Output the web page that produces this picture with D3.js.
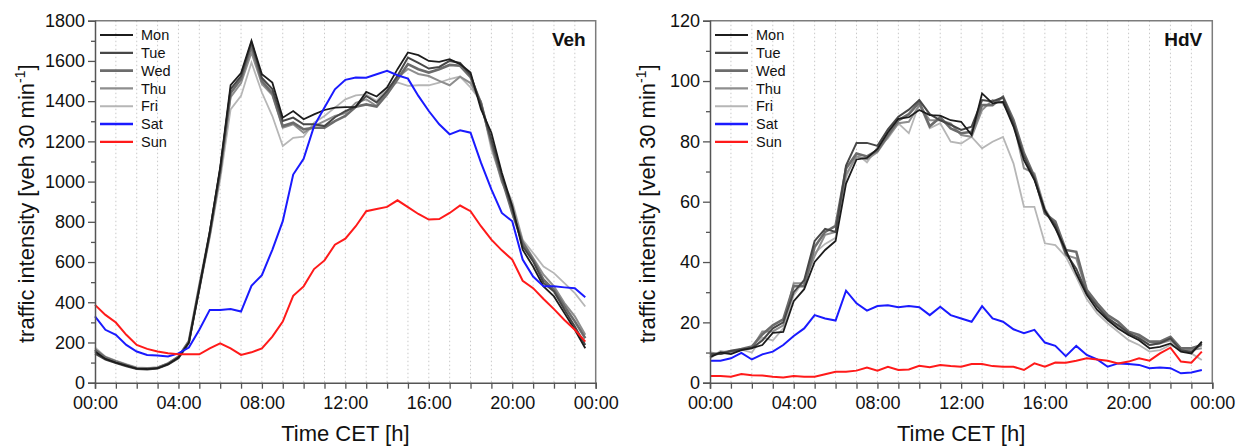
<!DOCTYPE html>
<html>
<head>
<meta charset="utf-8">
<script src="https://cdn.jsdelivr.net/npm/d3@7"></script>
<style>
  body { margin: 0; background: #fff; }
  svg { display: block; }
  text { font-family: "Liberation Sans", Arial, Helvetica, sans-serif; fill: #111; }
</style>
</head>
<body>
<svg id="chart" width="1241" height="446"></svg>
<script>
// Half-hourly traffic intensity per weekday, two vehicle classes
const days = ["Mon", "Tue", "Wed", "Thu", "Fri", "Sat", "Sun"];
const slots = d3.range(0, 24, 0.5); // start of each 30-min interval [h]

// All vehicles (Veh)
const vehMon = [155,118,100,85,70,68,72,92,125,200, 470,750,1070,1480,1540,1700,1534,1492,1318,1351, 1310,1334,1356,1368,1370,1372,1446,1423,1468,1559, 1642,1629,1600,1595,1609,1584,1542,1360,1243,1044, 878,661,578,479,429,346,263,171];
const vehTue = [145,115,98,82,68,66,70,90,122,198, 465,745,1060,1460,1525,1692,1515,1460,1301,1318, 1285,1285,1276,1320,1350,1372,1426,1393,1451,1526, 1617,1590,1562,1570,1600,1590,1530,1380,1210,1030, 862,678,603,496,454,363,280,188];
const vehWed = [165,125,105,88,72,70,74,95,128,205, 480,740,1050,1440,1510,1675,1500,1440,1276,1293, 1260,1268,1268,1301,1326,1372,1384,1373,1434,1509, 1584,1559,1542,1559,1580,1576,1520,1390,1195,1015, 845,695,611,512,462,380,305,221];
const vehThu = [160,122,102,86,71,69,73,94,126,202, 475,735,1040,1420,1490,1642,1485,1430,1268,1285, 1243,1276,1301,1326,1340,1392,1409,1376,1451,1517, 1560,1535,1525,1501,1479,1522,1490,1395,1180,998, 886,703,620,537,479,396,330,238];
const vehFri = [175,130,110,92,76,73,76,97,132,210, 460,720,1010,1359,1426,1592,1443,1326,1177,1218, 1223,1293,1326,1368,1409,1429,1434,1401,1468,1493, 1476,1479,1479,1492,1510,1522,1468,1400,1160,1010, 902,711,645,578,545,495,445,379];
const vehSat = [330,263,238,188,155,138,135,130,146,175, 263,362,362,366,354,482,535,661,803,1035, 1113,1276,1368,1459,1506,1517,1516,1534,1551,1529, 1512,1426,1351,1285,1235,1255,1243,1094,961,844, 803,612,528,479,479,474,470,425];
const vehSun = [387,337,299,238,188,168,155,146,141,141, 141,171,196,171,138,151,171,229,304,432, 479,565,608,686,716,778,853,864,874,907, 873,839,811,814,844,881,853,778,711,658, 612,507,470,416,366,312,263,204];

// Heavy-duty vehicles (HdV)
const hdvMon = [8.5,10,9.5,10.8,11.5,12.5,16.5,16.8,27,31, 40,44,47,66,74,74.5,77.5,83,87.5,88, 90.4,88.7,88.5,87,86.5,82.1,95.9,92.6,93.1,84.9, 73.8,67.2,57.2,51.2,44,36.2,29.1,24.1,20.8,18, 15.8,14.1,11.4,11.9,13,10.3,9.7,13.6];
const hdvTue = [9.5,9.5,10.5,11,11.5,14,18,20,30,34, 47,51,50,72,79.5,79.5,78.5,84,88.2,90.5, 93.7,89,87,85.5,83.8,84.9,93.7,93.2,94.6,86, 75,67.8,56.7,52.3,42.9,37.8,29.7,25.2,21.3,19.1, 16.4,14.7,12.5,13.1,14.7,10.8,10.2,13];
const hdvWed = [9,9.8,10.5,11.2,12,16,19,21,32,32, 45,50,52,71,76,75,77,82,87,89, 93,85,88,84.3,82.7,83.2,92,92,94.8,87.1, 76.1,68.3,56.1,53.4,44,43.4,30.8,26.3,22.4,20.2, 16.9,15.8,13.6,13.6,15.2,11.4,11.4,12.5];
const hdvThu = [10,9.5,10.2,11,11.5,17,17,19,33,33, 42,49,50,69,75,74,76.5,81.5,86,86.5, 92,87,87,86,82.1,81.5,90.4,93.7,92.6,86.5, 71.1,69.4,57.7,51.8,42.3,41.2,30.3,26.3,21.8,18.5, 15.8,15.2,12.5,13.1,14.1,10.8,10.8,11.4];
const hdvFri = [8,10.5,10,11,10,15,14,18,29,34, 43,46,48,68,76,73,78,81,86,82.7, 92.5,84.3,86,79.9,79.3,81.5,77.7,79.9,81.5,72.7, 58.3,58.3,46.2,45.6,41.8,35.1,27.7,23,19.7,16.9, 14.1,12.5,10.3,10.8,12.5,10.8,9.7,7.5];
const hdvSat = [7.3,7.3,8.1,9.9,7.7,9.4,10.3,12.5,15.5,18, 22.4,21.3,20.6,30.5,26.3,23.9,25.4,25.7,25,25.4, 25,22.4,25.2,22.4,21.3,20.2,25.4,21.3,20.2,17.7, 16.4,17.5,13.3,12.2,8.8,12.2,9.2,7.7,5.3,6.4, 6.2,5.9,4.8,5,4.8,3.1,3.4,4.2];
const hdvSun = [2.2,2.2,2,2.9,2.5,2.4,2,1.7,2.2,2, 2,2.8,3.6,3.6,4,5,4,5.3,4.2,4.4, 5.6,5.1,5.9,5.5,5.3,6.2,6.2,5.5,5.3,5.3, 4.2,6.4,5.3,6.7,6.6,7.3,8.1,7.7,7.3,6.4, 7,8.1,7.3,9.7,11.6,7,6.6,10.3];

// Axis ticks
const xTickHours = [0, 4, 8, 12, 16, 20, 24];
const xTickLabels = ["00:00", "04:00", "08:00", "12:00", "16:00", "20:00", "00:00"];
const vehYTicks = [0, 200, 400, 600, 800, 1000, 1200, 1400, 1600, 1800];
const hdvYTicks = [0, 20, 40, 60, 80, 100, 120];

const dayStyle = {
  Mon: { color: "#1c1c1c", width: 1.8 },
  Tue: { color: "#474747", width: 2.0 },
  Wed: { color: "#6c6c6c", width: 2.6 },
  Thu: { color: "#8e8e8e", width: 2.0 },
  Fri: { color: "#b6b6b6", width: 1.8 },
  Sat: { color: "#1a1aff", width: 2.0 },
  Sun: { color: "#ff1a1a", width: 2.0 }
};

const svg = d3.select("#chart");
svg.append("rect").attr("width", 1241).attr("height", 446).attr("fill", "#fff");

function drawPanel(p) {
  const g = svg.append("g");
  const x = d3.scaleLinear().domain([0, 24]).range([p.x0, p.x1]);
  const y = d3.scaleLinear().domain([0, p.yMax]).range([p.y1, p.y0]);

  // dotted hourly grid
  g.append("g").selectAll("line").data(d3.range(1, 24)).join("line")
    .attr("x1", d => x(d)).attr("x2", d => x(d))
    .attr("y1", p.y0).attr("y2", p.y1)
    .attr("stroke", "#c9c9c9").attr("stroke-width", 1)
    .attr("stroke-dasharray", "1.5,2.5");

  // upper and right frame
  g.append("path")
    .attr("d", `M${p.x0},${p.y0}H${p.x1}V${p.y1}`)
    .attr("fill", "none").attr("stroke", "#7c7c7c").attr("stroke-width", 1.5);

  // day curves
  const line = d3.line().x((d, i) => x(slots[i])).y(d => y(d));
  const order = ["Fri", "Thu", "Wed", "Tue", "Mon", "Sat", "Sun"];
  g.append("g").selectAll("path").data(order).join("path")
    .attr("d", d => line(p.series[d]))
    .attr("fill", "none")
    .attr("stroke", d => dayStyle[d].color)
    .attr("stroke-width", d => dayStyle[d].width)
    .attr("stroke-linejoin", "miter");

  // x axis (hourly ticks, labels every 4 h)
  const xAxis = d3.axisBottom(x)
    .tickValues(d3.range(0, 25))
    .tickSize(6).tickPadding(7.5)
    .tickFormat(d => (d % 4 === 0 ? xTickLabels[xTickHours.indexOf(d)] : ""));
  const gx = g.append("g").attr("transform", `translate(0,${p.y1})`).call(xAxis);
  gx.select(".domain").attr("stroke", "#555").attr("stroke-width", 1.5);
  gx.selectAll(".tick line").attr("stroke", "#555").attr("stroke-width", 1.3);
  gx.selectAll("text").attr("font-size", 18).attr("font-family", null).style("fill", "#111");

  // y axis: minor ticks
  const gyMinor = g.append("g").attr("transform", `translate(${p.x0},0)`)
    .call(d3.axisLeft(y).tickValues(p.yMinor).tickSize(4).tickFormat(""));
  gyMinor.select(".domain").remove();
  gyMinor.selectAll(".tick line").attr("stroke", "#555").attr("stroke-width", 1.3);

  // y axis: major ticks
  const gy = g.append("g").attr("transform", `translate(${p.x0},0)`)
    .call(d3.axisLeft(y).tickValues(p.yTicks).tickSize(7).tickPadding(3).tickFormat(d3.format("d")));
  gy.select(".domain").attr("stroke", "#555").attr("stroke-width", 1.5);
  gy.selectAll(".tick line").attr("stroke", "#555").attr("stroke-width", 1.3);
  gy.selectAll("text").attr("font-size", 18).attr("font-family", null).style("fill", "#111");

  // axis titles
  g.append("text")
    .attr("x", (p.x0 + p.x1) / 2).attr("y", 441)
    .attr("text-anchor", "middle").attr("font-size", 22)
    .text("Time CET [h]");

  const yt = g.append("text")
    .attr("transform", `translate(${p.yTitleX},${(p.y0 + p.y1) / 2 + 2}) rotate(-90)`)
    .attr("text-anchor", "middle").attr("font-size", 22);
  yt.append("tspan").text("traffic intensity [veh 30 min");
  yt.append("tspan").attr("font-size", 14).attr("dy", -9).text("-1");
  yt.append("tspan").attr("dy", 9).text("]");

  // panel title
  g.append("text")
    .attr("x", p.x1 - 10).attr("y", 46)
    .attr("text-anchor", "end").attr("font-size", 19).attr("font-weight", "bold")
    .text(p.title);

  // legend
  const lg = g.append("g");
  const rows = lg.selectAll("g").data(days).join("g")
    .attr("transform", (d, i) => `translate(${p.x0 + 5},${35 + i * 17.8})`);
  rows.append("line")
    .attr("x1", 0).attr("x2", 33).attr("y1", 0).attr("y2", 0)
    .attr("stroke", d => dayStyle[d].color)
    .attr("stroke-width", d => dayStyle[d].width + 0.3);
  rows.append("text")
    .attr("x", 41).attr("y", 0).attr("dy", "0.36em")
    .attr("font-size", 14.5)
    .text(d => d);
}

drawPanel({
  x0: 95, x1: 595.7, y0: 20.7, y1: 382.7,
  yMax: 1800, yTicks: vehYTicks, yMinor: d3.range(100, 1800, 200),
  yTitleX: 34, title: "Veh",
  series: { Mon: vehMon, Tue: vehTue, Wed: vehWed, Thu: vehThu, Fri: vehFri, Sat: vehSat, Sun: vehSun }
});

drawPanel({
  x0: 710, x1: 1212.3, y0: 20.7, y1: 382.7,
  yMax: 120, yTicks: hdvYTicks, yMinor: d3.range(10, 120, 20),
  yTitleX: 655, title: "HdV",
  series: { Mon: hdvMon, Tue: hdvTue, Wed: hdvWed, Thu: hdvThu, Fri: hdvFri, Sat: hdvSat, Sun: hdvSun }
});
</script>
</body>
</html>
